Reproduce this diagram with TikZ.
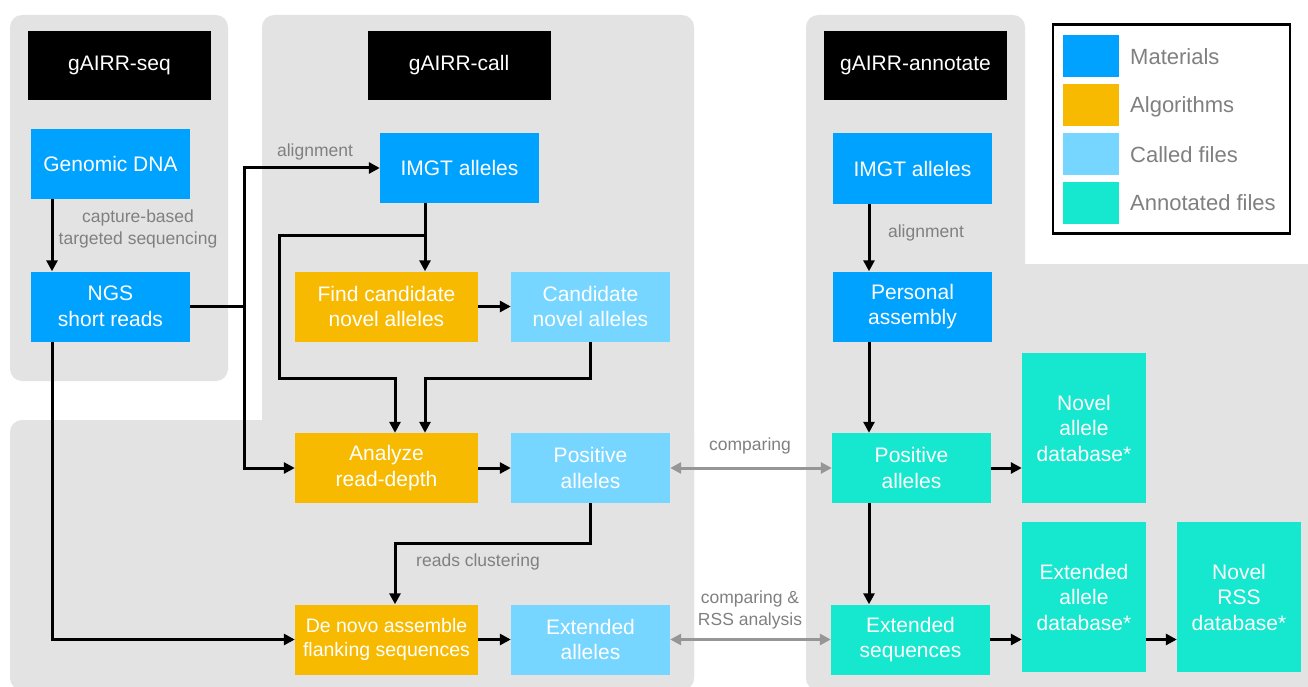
\documentclass[tikz,border=0pt]{standalone}
\usepackage{fontspec}
\setmainfont{Liberation Sans}
\usetikzlibrary{arrows.meta}
\definecolor{matc}{HTML}{00A2FF}
\definecolor{algc}{HTML}{F7BA00}
\definecolor{calc}{HTML}{76D6FF}
\definecolor{annc}{HTML}{16E7CF}
\definecolor{panelc}{HTML}{E3E3E3}
\definecolor{labc}{HTML}{808080}
\definecolor{garr}{HTML}{969696}
\tikzset{
  boxbase/.style={inner sep=0pt, align=center, text=white, font=\fontsize{21}{25.5}\selectfont},
  wbox/.style={boxbase, minimum width=159pt, minimum height=70pt},
  abox/.style={boxbase, minimum width=183pt, minimum height=70pt},
  dbox/.style={boxbase, minimum width=124pt, minimum height=150pt, fill=annc},
  titlebox/.style={boxbase, fill=black, minimum width=183pt, minimum height=69pt},
  lab/.style={text=labc, align=center, inner sep=0pt, font=\fontsize{17.5}{22}\selectfont},
  arr/.style={line width=3pt, -{Triangle[length=11pt,width=11pt]}},
  plain/.style={line width=3pt},
  garrow/.style={line width=3pt, draw=garr, {Triangle[length=11pt,width=11pt]}-{Triangle[length=11pt,width=11pt]}},
  panel/.style={fill=panelc, rounded corners=12pt},
  swatch/.style={inner sep=0pt, minimum width=56pt, minimum height=42pt},
  legtext/.style={text=labc, anchor=west, inner sep=0pt, font=\fontsize{22}{26}\selectfont},
}
\begin{document}
\begin{tikzpicture}[x=1pt,y=-1pt]
\useasboundingbox (0,0) rectangle (1308,687);
% panels
\path[panel] (10,15) rectangle (228,381);
\path[panel] (262,15) rectangle (694,690);
\path[panel] (10,420) rectangle (694,690);
\path[panel] (806,15) rectangle (1025,690);
\path[panel] (806,264) rectangle (1330,690);

% titles
\node[titlebox] (t1) at (119.5,65.5) {gAIRR-seq};
\node[titlebox] (t2) at (459,65.5) {gAIRR-call};
\node[titlebox] (t3) at (915.5,65.5) {gAIRR-annotate};

% legend
\node[draw=black, line width=2.5pt, fill=white, inner sep=0pt, minimum width=237pt, minimum height=209pt] (legend) at (1171.5,129) {};
\node[swatch, fill=matc] (s1) at (1090.5,56) {};
\node[swatch, fill=algc] (s2) at (1090.5,105.5) {};
\node[swatch, fill=calc] (s3) at (1090.5,154.5) {};
\node[swatch, fill=annc] (s4) at (1090.5,203) {};
\node[legtext] (l1) at (1130,57) {Materials};
\node[legtext] (l2) at (1130,106.5) {Algorithms};
\node[legtext] (l3) at (1130,154.5) {Called files};
\node[legtext] (l4) at (1130,203) {Annotated files};

% nodes
\node[wbox, fill=matc] (gdna) at (110.5,164) {Genomic DNA};
\node[wbox, fill=matc] (ngs) at (110.5,306.5) {NGS\\short reads};
\node[wbox, fill=matc] (imgt1) at (459.5,168) {IMGT alleles};
\node[abox, fill=algc] (find) at (386.5,306.5) {Find candidate\\novel alleles};
\node[wbox, fill=calc] (cand) at (590.5,306.5) {Candidate\\novel alleles};
\node[abox, fill=algc] (anal) at (386.5,468) {Analyze\\read-depth};
\node[wbox, fill=calc] (pos1) at (590.5,468) {Positive\\alleles};
\node[abox, fill=algc, font=\fontsize{19.5}{24}\selectfont] (deno) at (386.5,639.5) {De novo assemble\\flanking sequences};
\node[wbox, fill=calc] (ext1) at (590.5,639.5) {Extended\\alleles};
\node[wbox, fill=matc] (imgt2) at (912.5,168.5) {IMGT alleles};
\node[wbox, fill=matc] (pers) at (912.5,306.5) {Personal\\assembly};
\node[wbox, fill=annc] (pos2) at (911.5,468) {Positive\\alleles};
\node[dbox] (ndb) at (1084,428) {Novel\\allele\\database*};
\node[wbox, fill=annc] (extseq) at (910.5,639.5) {Extended\\sequences};
\node[dbox] (edb) at (1084,597) {Extended\\allele\\database*};
\node[dbox] (rss) at (1239,597) {Novel\\RSS\\database*};

% helper coordinates
\coordinate (c52) at (52,0);
\coordinate (c395) at (395,0);
\coordinate (c425) at (425,0);
\coordinate (c869) at (869,0);
\coordinate (j1) at (244,306.5);
\coordinate (j2) at (425,235);

% connectors
\draw[arr] (gdna.south -| c52) -- (ngs.north -| c52);
\node[lab] (lcap) at (138,229) {capture-based\\targeted sequencing};
\draw[plain] (ngs.east) -- (j1);
\draw[arr] (j1) |- (imgt1.west);
\draw[arr] (j1) |- (anal.west);
\node[lab] (lal1) at (315,152) {alignment};
\draw[arr] (ngs.south -| c52) |- (deno.west);
\draw[arr] (imgt1.south -| c425) -- (find.north -| c425);
\draw[arr] (j2) -| (279,378) -| (anal.north -| c395);
\draw[arr] (find.east) -- (cand.west);
\draw[arr] (cand.south) -- ++(0,37) -| (anal.north -| c425);
\draw[arr] (anal.east) -- (pos1.west);
\draw[arr] (pos1.south) -- ++(0,40) -| (deno.north -| c395);
\node[lab] (lrc) at (478,562) {reads clustering};
\draw[arr] (deno.east) -- (ext1.west);
\draw[garrow] (pos1.east) -- (pos2.west);
\node[lab] (lcmp) at (750,446) {comparing};
\draw[garrow] (ext1.east) -- (extseq.west);
\node[lab] (lcmp2) at (750,610) {comparing \&\\RSS analysis};
\draw[arr] (imgt2.south -| c869) -- (pers.north -| c869);
\node[lab] (lal2) at (926,233) {alignment};
\draw[arr] (pers.south -| c869) -- (pos2.north -| c869);
\draw[arr] (pos2.south -| c869) -- (extseq.north -| c869);
\draw[arr] (pos2.east) -- (pos2.east -| ndb.west);
\draw[arr] (extseq.east) -- (extseq.east -| edb.west);
\draw[arr] (extseq.east -| edb.east) -- (extseq.east -| rss.west);
\end{tikzpicture}
\end{document}
